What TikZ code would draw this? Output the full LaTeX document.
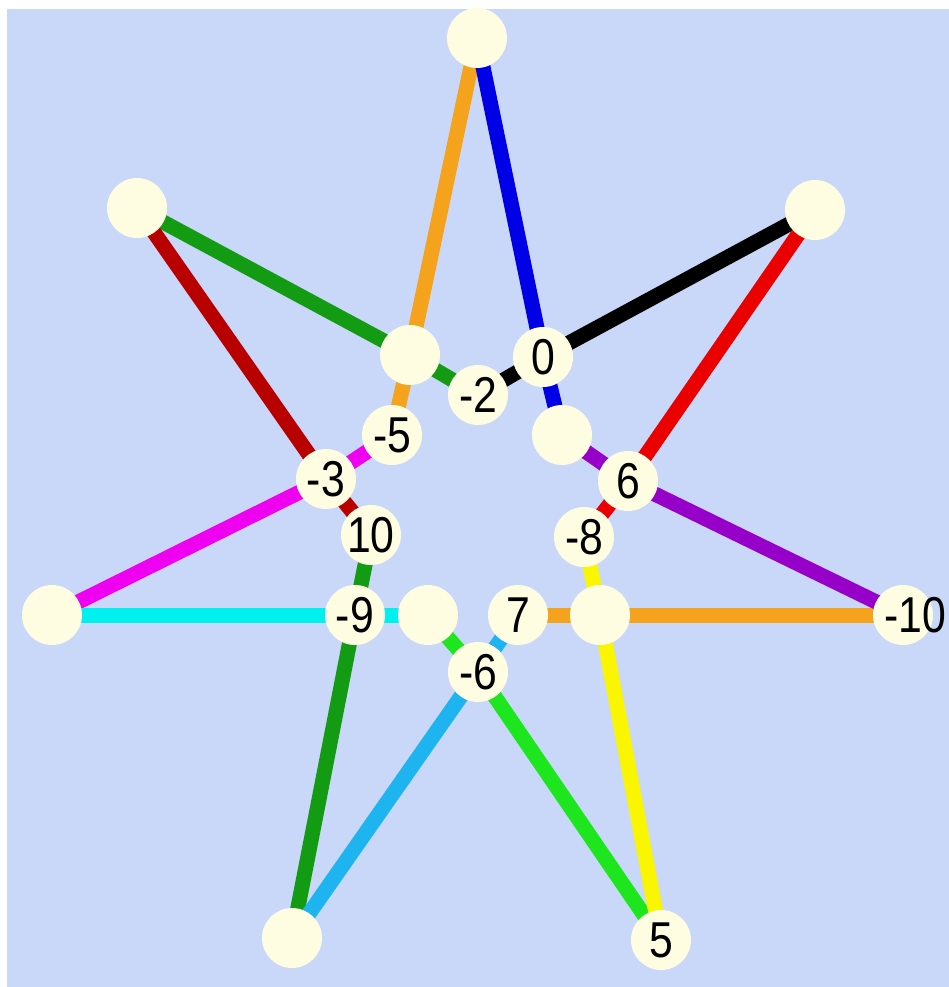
\documentclass[tikz,border=0pt]{standalone}
\usepackage{fontspec}
\usepackage{graphicx}
\setmainfont{Liberation Sans}
\definecolor{bgblue}{RGB}{201,216,248}
\definecolor{nodefill}{RGB}{255,253,225}
\definecolor{cOrange}{RGB}{245,162,28}
\definecolor{cBlue}{RGB}{0,0,230}
\definecolor{cRed}{RGB}{235,0,0}
\definecolor{cDarkRed}{RGB}{185,0,0}
\definecolor{cGreen}{RGB}{20,155,20}
\definecolor{cMagenta}{RGB}{240,0,240}
\definecolor{cCyan}{RGB}{0,240,240}
\definecolor{cSky}{RGB}{30,180,240}
\definecolor{cLime}{RGB}{30,230,30}
\definecolor{cYellow}{RGB}{250,245,0}
\definecolor{cPurple}{RGB}{150,0,200}
\newcommand\vlbl[1]{\makebox[0pt]{\scalebox{0.95}[1.12]{#1}}}
\pgfdeclarelayer{bg}
\pgfdeclarelayer{edges}
\pgfsetlayers{bg,edges,main}
\begin{document}
\begin{tikzpicture}[x=1pt,y=-1pt,
  vtx/.style={circle,fill=nodefill,minimum size=60pt,inner sep=0pt,
    font=\fontsize{45}{45}\selectfont},
  seg/.style={line width=15pt}]
\useasboundingbox (0,0) rectangle (949,987);
% nodes
\node[vtx] (T)  at (477,38)  {};
\node[vtx] (UL) at (137,208) {};
\node[vtx] (UR) at (815,210) {};
\node[vtx] (L)  at (52,615)  {};
\node[vtx] (R)  at (903,615) {\makebox[0pt]{\hspace{24pt}\scalebox{0.95}[1.12]{-10}}};
\node[vtx] (BL) at (292,938) {};
\node[vtx] (BR) at (661,940) {\vlbl{5}};
\node[vtx] (A)  at (410,355) {};
\node[vtx] (n0) at (543,357) {\vlbl{0}};
\node[vtx] (m2) at (478,395) {\vlbl{-2}};
\node[vtx] (m5) at (392,435) {\vlbl{-5}};
\node[vtx] (B)  at (562,435) {};
\node[vtx] (m3) at (326,479) {\vlbl{-3}};
\node[vtx] (n6) at (628,481) {\vlbl{6}};
\node[vtx] (n10) at (371,535) {\vlbl{10}};
\node[vtx] (m8) at (584,537) {\vlbl{-8}};
\node[vtx] (m9) at (355,615) {\vlbl{-9}};
\node[vtx] (C)  at (428,615) {};
\node[vtx] (n7) at (518,615) {\vlbl{7}};
\node[vtx] (D)  at (600,615) {};
\node[vtx] (m6) at (478,672) {\vlbl{-6}};
% background
\begin{pgfonlayer}{bg}
  \fill[white] (0,0) rectangle (949,987);
  \fill[bgblue] (7,9) rectangle (949,987);
\end{pgfonlayer}
% edges
\begin{pgfonlayer}{edges}
  \draw[seg,cOrange]  (T.center) -- (A.center);
  \draw[seg,cBlue]    (T.center) -- (n0.center);
  \draw[seg,cBlue]    (n0.center) -- (B.center);
  \draw[seg,black]    (n0.center) -- (UR.center);
  \draw[seg,black]    (n0.center) -- (m2.center);
  \draw[seg,cGreen]   (m2.center) -- (A.center);
  \draw[seg,cGreen]   (A.center) -- (UL.center);
  \draw[seg,cOrange]  (A.center) -- (m5.center);
  \draw[seg,cDarkRed] (UL.center) -- (m3.center);
  \draw[seg,cMagenta] (m3.center) -- (m5.center);
  \draw[seg,cMagenta] (m3.center) -- (L.center);
  \draw[seg,cDarkRed] (m3.center) -- (n10.center);
  \draw[seg,cGreen]   (n10.center) -- (m9.center);
  \draw[seg,cCyan]    (m9.center) -- (L.center);
  \draw[seg,cCyan]    (m9.center) -- (C.center);
  \draw[seg,cGreen]   (m9.center) -- (BL.center);
  \draw[seg,cSky]     (BL.center) -- (m6.center);
  \draw[seg,cSky]     (m6.center) -- (n7.center);
  \draw[seg,cLime]    (m6.center) -- (C.center);
  \draw[seg,cLime]    (m6.center) -- (BR.center);
  \draw[seg,cYellow]  (BR.center) -- (D.center);
  \draw[seg,cYellow]  (D.center) -- (m8.center);
  \draw[seg,cOrange]  (D.center) -- (n7.center);
  \draw[seg,cOrange]  (D.center) -- (R.center);
  \draw[seg,cPurple]  (R.center) -- (n6.center);
  \draw[seg,cPurple]  (n6.center) -- (B.center);
  \draw[seg,cRed]     (n6.center) -- (UR.center);
  \draw[seg,cRed]     (n6.center) -- (m8.center);
\end{pgfonlayer}
\end{tikzpicture}
\end{document}
